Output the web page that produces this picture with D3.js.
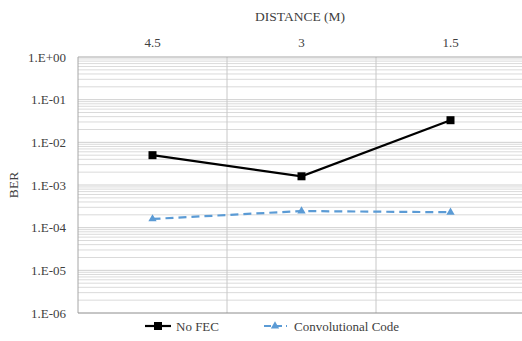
<!DOCTYPE html>
<html>
<head>
<meta charset="utf-8">
<script src="https://cdn.jsdelivr.net/npm/d3@7"></script>
<style>
  html, body { margin: 0; padding: 0; background: #fff; }
  svg { display: block; }
  text { font-family: "Liberation Serif", "Times New Roman", serif; fill: #404040; }
</style>
</head>
<body>
<svg id="chart" width="522" height="341"></svg>
<script>
// Distances and bit error rates for the two coding schemes
const distances = ["4.5", "3", "1.5"];
const noFec = [5.0e-3, 1.6e-3, 3.3e-2];
const convCode = [1.6e-4, 2.45e-4, 2.3e-4];
const yTicks = [1, 1e-1, 1e-2, 1e-3, 1e-4, 1e-5, 1e-6];
const yTickLabels = ["1.E+00", "1.E-01", "1.E-02", "1.E-03", "1.E-04", "1.E-05", "1.E-06"];

const svg = d3.select("#chart");
const plotLeft = 78, plotRight = 525, plotTop = 57, plotBottom = 313;

const x = d3.scaleBand().domain(distances).range([plotLeft, plotRight]);
const y = d3.scaleLog().domain([1e-6, 1]).range([plotBottom, plotTop]);

// Minor and major horizontal grid lines
const minor = [];
for (let e = -6; e < 0; e++) {
  for (let m = 2; m <= 9; m++) minor.push(m * Math.pow(10, e));
}
svg.append("g").selectAll("line").data(minor).join("line")
  .attr("x1", plotLeft).attr("x2", 522)
  .attr("y1", d => y(d)).attr("y2", d => y(d))
  .attr("stroke", "#dadada").attr("stroke-width", 1);
svg.append("g").selectAll("line").data(yTicks.slice(1, -1)).join("line")
  .attr("x1", plotLeft).attr("x2", 522)
  .attr("y1", d => y(d)).attr("y2", d => y(d))
  .attr("stroke", "#cfcfcf").attr("stroke-width", 1);

// Vertical grid lines at category boundaries
const bounds = distances.map(d => x(d)).concat([x(distances[distances.length - 1]) + x.bandwidth()]);
svg.append("g").selectAll("line").data(bounds).join("line")
  .attr("x1", d => d).attr("x2", d => d)
  .attr("y1", plotTop).attr("y2", plotBottom)
  .attr("stroke", (d, i) => i === 0 ? "#a6a6a6" : "#c8c8c8").attr("stroke-width", 1);

// Top (1.E+00) line and bottom axis
svg.append("line").attr("x1", plotLeft).attr("x2", 522).attr("y1", y(1)).attr("y2", y(1))
  .attr("stroke", "#a6a6a6");
svg.append("line").attr("x1", plotLeft).attr("x2", 522).attr("y1", y(1e-6)).attr("y2", y(1e-6))
  .attr("stroke", "#8c8c8c");

// Y tick labels
const yAxis = d3.axisLeft(y).tickValues(yTicks)
  .tickFormat((d, i) => yTickLabels[i]).tickSize(0).tickPadding(12);
const gy = svg.append("g").attr("transform", `translate(${plotLeft},0)`).call(yAxis);
gy.select(".domain").remove();
gy.selectAll("text").attr("font-size", 13)
  .style("font-family", '"Liberation Serif", serif').attr("fill", "#404040");

// X tick labels along the top
const xAxis = d3.axisTop(x).tickSize(0).tickPadding(10);
const gx = svg.append("g").attr("transform", `translate(0,${plotTop})`).call(xAxis);
gx.select(".domain").remove();
gx.selectAll("text").attr("font-size", 13)
  .style("font-family", '"Liberation Serif", serif').attr("fill", "#404040");

// Axis titles
svg.append("text").attr("x", 300).attr("y", 21).attr("text-anchor", "middle")
  .attr("font-size", 13.5).text("DISTANCE (M)");
svg.append("text").attr("transform", "translate(18,185) rotate(-90)")
  .attr("text-anchor", "middle").attr("font-size", 13.5).text("BER");

const cx = d => x(d) + x.bandwidth() / 2;
const line = d3.line().x(d => cx(d[0])).y(d => y(d[1]));

// Convolutional code series
const blue = "#5b9bd5";
svg.append("path").datum(distances.map((d, i) => [d, convCode[i]]))
  .attr("d", line).attr("fill", "none").attr("stroke", blue)
  .attr("stroke-width", 2.2).attr("stroke-dasharray", "8,5");
const tri = d3.symbol().type(d3.symbolTriangle).size(30);
svg.append("g").selectAll("path").data(distances.map((d, i) => [d, convCode[i]])).join("path")
  .attr("d", tri).attr("transform", d => `translate(${cx(d[0])},${y(d[1])})`)
  .attr("fill", blue);

// No FEC series
svg.append("path").datum(distances.map((d, i) => [d, noFec[i]]))
  .attr("d", line).attr("fill", "none").attr("stroke", "#000").attr("stroke-width", 2.2);
svg.append("g").selectAll("rect").data(distances.map((d, i) => [d, noFec[i]])).join("rect")
  .attr("x", d => cx(d[0]) - 4).attr("y", d => y(d[1]) - 4)
  .attr("width", 8).attr("height", 8).attr("fill", "#000");

// Legend
const ly = 327;
const lg = svg.append("g");
lg.append("line").attr("x1", 145).attr("x2", 171).attr("y1", ly - 1).attr("y2", ly - 1)
  .attr("stroke", "#000").attr("stroke-width", 2.2);
lg.append("rect").attr("x", 154).attr("y", ly - 5).attr("width", 8).attr("height", 8).attr("fill", "#000");
lg.append("text").attr("x", 176).attr("y", ly + 4).attr("font-size", 13).text("No FEC");
lg.append("line").attr("x1", 264).attr("x2", 287).attr("y1", ly - 1).attr("y2", ly - 1)
  .attr("stroke", blue).attr("stroke-width", 2.2).attr("stroke-dasharray", "7,4");
lg.append("path").attr("d", tri).attr("transform", `translate(275,${ly - 1})`).attr("fill", blue);
lg.append("text").attr("x", 294).attr("y", ly + 4).attr("font-size", 13).text("Convolutional Code");
</script>
</body>
</html>
